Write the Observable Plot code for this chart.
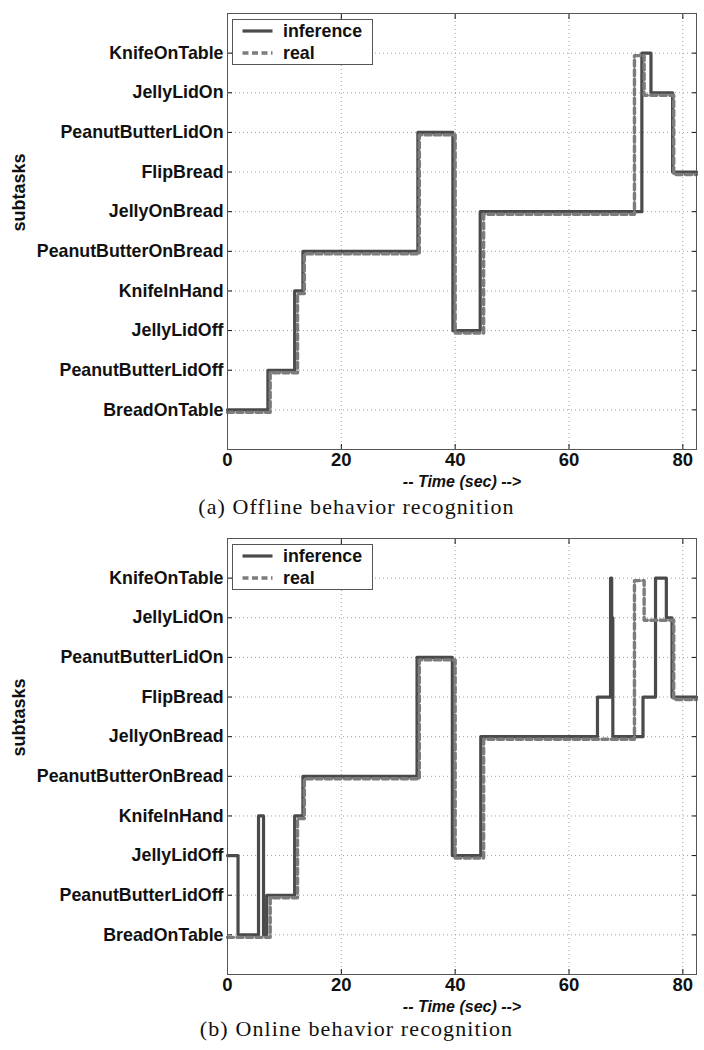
<!DOCTYPE html>
<html><head><meta charset="utf-8">
<script src="https://cdn.jsdelivr.net/npm/d3@7"></script>
<script src="https://cdn.jsdelivr.net/npm/@observablehq/plot@0.6"></script>
<style>
body{margin:0;background:#fff;width:704px;height:1050px;position:relative;overflow:hidden}
.panel{position:absolute;left:0;width:704px}
.caption{position:absolute;left:0;width:713px;text-align:center;font-family:"Liberation Serif","Times New Roman",serif;font-size:22px;letter-spacing:1.1px;line-height:24px;color:#111;white-space:nowrap}
.legend{position:absolute;left:232px}
</style>
</head><body>
<div id="p1" class="panel" style="top:0px"></div>
<div id="c1" class="caption" style="top:495px"></div>
<div id="p2" class="panel" style="top:525px"></div>
<div id="c2" class="caption" style="top:1017px"></div>
<script>
// categories (bottom to top, index 1..10)
const subtasks = ["BreadOnTable","PeanutButterLidOff","JellyLidOff","KnifeInHand","PeanutButterOnBread","JellyOnBread","FlipBread","PeanutButterLidOn","JellyLidOn","KnifeOnTable"];
const taskIdx = [1,2,3,4,5,6,7,8,9,10];
const timeTicks = [0,20,40,60,80];
const legendLabels = ["inference","real"];
const captions = ["(a)  Offline behavior recognition","(b)  Online behavior recognition"];
const xLabel = "-- Time (sec) -->";
const yLabel = "subtasks";

// ground truth ("real") sequence, time (sec) and subtask index
const realTime = [0,7.5,12.3,13.5,33.7,40.0,45.0,71.5,73.2,78.4,82.4];
const realTask = [1,2,4,5,8,3,6,10,9,7,7];
// offline inference
const offlineTime = [0,7.1,11.8,13.25,33.45,39.6,44.4,72.8,74.4,78.2,82.4];
const offlineTask = [1,2,4,5,8,3,6,10,9,7,7];
// online inference
const onlineTime = [0,1.85,5.45,6.33,6.9,11.8,13.25,33.3,39.5,44.5,65.0,67.3,67.5,67.7,73.0,75.2,77.1,78.1,82.4];
const onlineTask = [3,1,4,1,2,4,5,8,3,6,7,10,9,6,7,10,9,7,7];

const solidColor = "#4a4a4a", dashColor = "#7c7c7c";

function chart(infT, infK) {
  const inf = infT.map((t, i) => ({t, k: infK[i]}));
  const real = realTime.map((t, i) => ({t, k: realTask[i]}));
  return Plot.plot({
    width: 704, height: 494,
    marginTop: 13, marginBottom: 45, marginLeft: 227, marginRight: 8,
    style: {fontFamily: '"Liberation Sans", Arial, sans-serif', fontSize: "17.8px", fontWeight: "bold", color: "#111", background: "#fff", overflow: "visible"},
    x: {domain: [0, 82.4]},
    y: {domain: [0, 11]},
    marks: [
      Plot.ruleX(timeTicks, {x: d => d, stroke: "#a0a0a0", strokeDasharray: "1,3"}),
      Plot.ruleY(taskIdx, {y: d => d, stroke: "#a0a0a0", strokeDasharray: "1,3"}),
      Plot.axisX(timeTicks, {anchor: "bottom", tickSize: -5, tickPadding: 8, label: null, fontSize: 18.5}),
      Plot.axisX(timeTicks, {anchor: "top", tickSize: -5, tickFormat: () => "", label: null}),
      Plot.axisY(taskIdx, {anchor: "left", tickSize: -5, tickPadding: 9, tickFormat: i => subtasks[i - 1], label: null}),
      Plot.axisY(taskIdx, {anchor: "right", tickSize: -5, tickFormat: () => "", label: null}),
      Plot.line(inf, {x: "t", y: "k", curve: "step-after", stroke: solidColor, strokeWidth: 3.2}),
      Plot.line(real, {x: "t", y: "k", curve: "step-after", stroke: dashColor, strokeWidth: 3.4, strokeDasharray: "6,3.5", dy: 2.5}),
      Plot.frame({stroke: "#555"}),
      Plot.text([yLabel], {frameAnchor: "left", text: d => d, rotate: -90, dx: -208, fontSize: 18, fontWeight: "bold"}),
      Plot.text([xLabel], {frameAnchor: "bottom", text: d => d, dy: 37, fontStyle: "italic", fontSize: 16, fontWeight: "bold"})
    ]
  });
}

function legend(top) {
  const svg = d3.create("svg").attr("class", "legend").attr("width", 141).attr("height", 46)
    .style("top", top + "px");
  svg.append("rect").attr("x", 0.5).attr("y", 0.5).attr("width", 140).attr("height", 45)
    .attr("fill", "#fff").attr("stroke", "#555");
  const styles = [{stroke: solidColor, dash: null, w: 3.2}, {stroke: dashColor, dash: "6,3.5", w: 3.4}];
  legendLabels.forEach((lab, i) => {
    const y = 12 + i * 22;
    svg.append("line").attr("x1", 10.5).attr("x2", 40.5).attr("y1", y).attr("y2", y)
      .attr("stroke", styles[i].stroke).attr("stroke-width", styles[i].w)
      .attr("stroke-dasharray", styles[i].dash);
    svg.append("text").attr("x", 51).attr("y", y).attr("dy", "0.35em")
      .attr("font-family", '"Liberation Sans", Arial, sans-serif').attr("font-size", 17.8)
      .attr("font-weight", "bold").attr("fill", "#111").text(lab);
  });
  return svg.node();
}

document.getElementById("p1").append(chart(offlineTime, offlineTask));
document.getElementById("p2").append(chart(onlineTime, onlineTask));
const l1 = legend(19); document.body.append(l1);
const l2 = legend(544); document.body.append(l2);
document.getElementById("c1").textContent = captions[0];
document.getElementById("c2").textContent = captions[1];
</script>
</body></html>
